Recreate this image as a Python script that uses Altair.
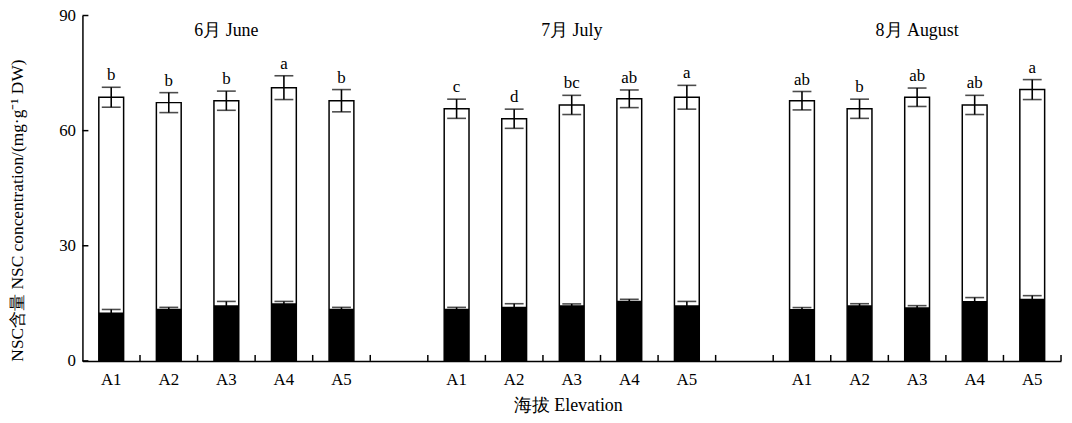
import altair as alt
import pandas as pd

months = ["6月 June", "7月 July", "8月 August"]
elevations = ["A1", "A2", "A3", "A4", "A5"]

total_vals = [
    [68.7, 67.3, 67.8, 71.2, 67.8],
    [65.7, 63.1, 66.7, 68.3, 68.7],
    [67.8, 65.7, 68.7, 66.7, 70.7],
]
total_err = [
    [2.6, 2.6, 2.5, 3.1, 2.9],
    [2.5, 2.5, 2.5, 2.3, 3.1],
    [2.4, 2.5, 2.4, 2.5, 2.6],
]
black_vals = [
    [12.6, 13.6, 14.5, 15.0, 13.6],
    [13.6, 14.1, 14.5, 15.7, 14.5],
    [13.5, 14.5, 14.0, 15.6, 16.2],
]
black_err = [
    [0.8, 0.35, 1.0, 0.5, 0.35],
    [0.35, 0.8, 0.35, 0.35, 1.0],
    [0.4, 0.4, 0.4, 0.9, 0.8],
]
letters = [
    ["b", "b", "b", "a", "b"],
    ["c", "d", "bc", "ab", "a"],
    ["ab", "b", "ab", "ab", "a"],
]
y_ticks = [0, 30, 60, 90]

# category domain with an empty slot between months
domain = []
for mi, m in enumerate(months):
    for e in elevations:
        domain.append(f"{m}|{e}")
    if mi < len(months) - 1:
        domain.append(f"gap{mi}")

rows = []
for mi, m in enumerate(months):
    for ei, e in enumerate(elevations):
        t, te = total_vals[mi][ei], total_err[mi][ei]
        b, be = black_vals[mi][ei], black_err[mi][ei]
        rows.append(dict(key=f"{m}|{e}", total=t, t_lo=t - te, t_hi=t + te,
                         black=b, b_lo=b - be, b_hi=b + be,
                         letter=letters[mi][ei]))
df = pd.DataFrame(rows)
month_df = pd.DataFrame({"key": [f"{m}|A3" for m in months], "label": months})
tick_df = pd.DataFrame({"key": domain})
ytick_df = pd.DataFrame({"v": y_ticks})

W, H = 986, 348
FONT = "Liberation Serif"

xscale = alt.Scale(domain=domain, paddingInner=0, paddingOuter=0)
yscale = alt.Scale(domain=[0, 90])

x_enc = alt.X("key:N", scale=xscale, sort=domain,
              axis=alt.Axis(title="海拔 Elevation",
                            labelExpr="indexof(datum.value, '|') > 0 ? split(datum.value, '|')[1] : ''",
                            labelAngle=0, ticks=False, labelPadding=19, labelBaseline="middle",
                            labelFont=FONT, titleFont=FONT,
                            labelFontSize=17, titleFontSize=18, titleX=489, titleY=45,
                            titleBaseline="middle", titleFontWeight="normal",
                            domainColor="black", domainWidth=1.5, labelColor="black",
                            titleColor="black"))
y_axis = alt.Axis(title="NSC含量 NSC concentration/(mg·g⁻¹ DW)", values=y_ticks, ticks=False,
                  labelFont=FONT, titleFont=FONT,
                  labelPadding=7, labelFontSize=17, titleFontSize=17.5, titleX=-65, titleY=196,
                  titleBaseline="middle", titleFontWeight="normal", grid=False,
                  domainColor="black", domainWidth=1.5, labelColor="black", titleColor="black")

base = alt.Chart(df)

white = base.mark_bar(size=25, fill="white", stroke="black", strokeWidth=1.5).encode(
    x=x_enc, y=alt.Y("total:Q", scale=yscale, axis=y_axis))
t_rule = base.mark_rule(color="black", strokeWidth=1.6).encode(
    x=alt.X("key:N", scale=xscale), y="t_lo:Q", y2="t_hi:Q")
t_cap_hi = base.mark_tick(color="black", size=19, thickness=1.6).encode(
    x=alt.X("key:N", scale=xscale), y="t_hi:Q")
t_cap_lo = base.mark_tick(color="black", size=19, thickness=1.6).encode(
    x=alt.X("key:N", scale=xscale), y="t_lo:Q")
blackbar = base.mark_bar(size=25, color="black").encode(
    x=alt.X("key:N", scale=xscale), y="black:Q")
b_rule = base.mark_rule(color="black", strokeWidth=1.6).encode(
    x=alt.X("key:N", scale=xscale), y="b_lo:Q", y2="b_hi:Q")
b_cap = base.mark_tick(color="black", size=19, thickness=1.6).encode(
    x=alt.X("key:N", scale=xscale), y="b_hi:Q")
letters_txt = base.mark_text(baseline="alphabetic", dy=-7, fontSize=17, font=FONT, color="black").encode(
    x=alt.X("key:N", scale=xscale), y="t_hi:Q", text="letter:N")
month_txt = alt.Chart(month_df).mark_text(baseline="middle", fontSize=18, font=FONT, color="black").encode(
    x=alt.X("key:N", scale=xscale), y=alt.datum(86), text="label:N")
xticks = alt.Chart(tick_df).mark_rule(color="black", strokeWidth=1.5).encode(
    x=alt.X("key:N", scale=xscale, bandPosition=1), y=alt.value(H), y2=alt.value(H - 6))
yticks = alt.Chart(ytick_df).mark_rule(color="black", strokeWidth=1.5).encode(
    y=alt.Y("v:Q", scale=yscale), x=alt.value(0), x2=alt.value(6))

chart = alt.layer(white, t_rule, t_cap_hi, t_cap_lo, blackbar, b_rule, b_cap,
                  letters_txt, month_txt, xticks, yticks).properties(
    width=W, height=H,
    background="white",
    autosize=alt.AutoSizeParams(type="none"),
    padding={"left": 75, "top": 6, "right": 3, "bottom": 60},
).configure_view(strokeWidth=0, stroke="transparent")

chart.save("out.html", embed_options={"renderer": "svg", "actions": False})
